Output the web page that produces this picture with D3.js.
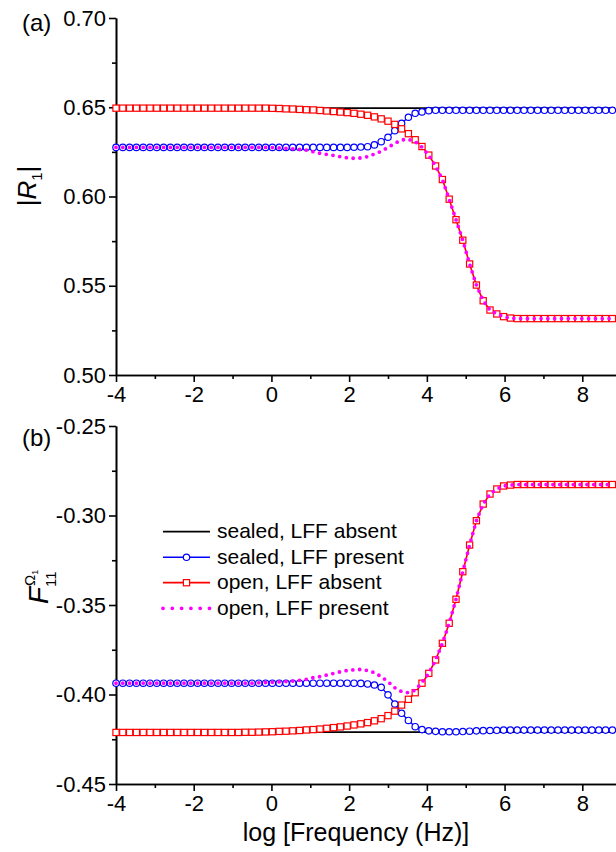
<!DOCTYPE html>
<html>
<head>
<meta charset="utf-8">
<script src="https://cdn.jsdelivr.net/npm/d3@7"></script>
<style>
  body { margin: 0; background: #fff; }
  svg { display: block; }
  text { font-family: "Liberation Sans", Arial, sans-serif; }
</style>
</head>
<body>
<svg id="chart" width="616" height="852"></svg>
<script>
// log10 of frequency, one entry per computed point
const logF = [
  -4, -3.825, -3.65, -3.475, -3.3, -3.125, -2.95, -2.775, -2.6, -2.425,
  -2.25, -2.075, -1.9, -1.725, -1.55, -1.375, -1.2, -1.025, -0.85, -0.675,
  -0.5, -0.325, -0.15, 0.025, 0.2, 0.375, 0.55, 0.725, 0.9, 1.075,
  1.25, 1.425, 1.6, 1.775, 1.95, 2.125, 2.3, 2.475, 2.65, 2.825,
  3.0, 3.175, 3.35, 3.525, 3.7, 3.875, 4.05, 4.225, 4.4, 4.575,
  4.75, 4.925, 5.1, 5.275, 5.45, 5.625, 5.8, 5.975, 6.15, 6.325,
  6.5, 6.675, 6.85, 7.025, 7.2, 7.375, 7.55, 7.725, 7.9, 8.075,
  8.25, 8.425, 8.6, 8.775
];

// panel (a): |R1|
const aSealedAbsent = [
  0.6495, 0.6495, 0.6495, 0.6495, 0.6495, 0.6495, 0.6495, 0.6495, 0.6495, 0.6495,
  0.6495, 0.6495, 0.6495, 0.6495, 0.6495, 0.6495, 0.6495, 0.6495, 0.6495, 0.6495,
  0.6495, 0.6495, 0.6495, 0.6495, 0.6495, 0.6495, 0.6495, 0.6495, 0.6495, 0.6495,
  0.6495, 0.6495, 0.6495, 0.6495, 0.6495, 0.6495, 0.6495, 0.6495, 0.6495, 0.6495,
  0.6495, 0.6495, 0.6495, 0.6495, 0.6495, 0.6495, 0.6495, 0.6495, 0.6495, 0.6495,
  0.6495, 0.6495, 0.6495, 0.6495, 0.6495, 0.6495, 0.6495, 0.6495, 0.6495, 0.6495,
  0.6495, 0.6495, 0.6495, 0.6495, 0.6495, 0.6495, 0.6495, 0.6495, 0.6495, 0.6495,
  0.6495, 0.6495, 0.6495, 0.6495
];
const aSealedPresent = [
  0.6275, 0.6275, 0.6275, 0.6275, 0.6275, 0.6275, 0.6275, 0.6275, 0.6275, 0.6275,
  0.6275, 0.6275, 0.6275, 0.6275, 0.6275, 0.6275, 0.6275, 0.6275, 0.6275, 0.6275,
  0.6275, 0.6275, 0.6275, 0.6275, 0.6275, 0.6275, 0.6275, 0.6275, 0.6275, 0.6275,
  0.6275, 0.6275, 0.6275, 0.6275, 0.6275, 0.6276, 0.6277, 0.6279, 0.6289, 0.6307,
  0.6332, 0.6369, 0.6410, 0.6444, 0.6466, 0.6474, 0.6481, 0.6483, 0.6483, 0.6483,
  0.6483, 0.6483, 0.6483, 0.6483, 0.6483, 0.6483, 0.6483, 0.6483, 0.6483, 0.6483,
  0.6483, 0.6483, 0.6483, 0.6483, 0.6483, 0.6483, 0.6483, 0.6483, 0.6483, 0.6483,
  0.6483, 0.6483, 0.6483, 0.6483
];
const aOpenAbsent = [
  0.6495, 0.6495, 0.6495, 0.6495, 0.6495, 0.6495, 0.6495, 0.6495, 0.6495, 0.6495,
  0.6495, 0.6495, 0.6495, 0.6495, 0.6495, 0.6495, 0.6495, 0.6495, 0.6495, 0.6495,
  0.6495, 0.6495, 0.6495, 0.6494, 0.6493, 0.6491, 0.6490, 0.6488, 0.6486, 0.6485,
  0.6482, 0.6479, 0.6476, 0.6473, 0.6470, 0.6466, 0.6461, 0.6455, 0.6446, 0.6435,
  0.6422, 0.6404, 0.6379, 0.6352, 0.6318, 0.6280, 0.6232, 0.6171, 0.6095, 0.5985,
  0.5870, 0.5755, 0.5622, 0.5504, 0.5416, 0.5364, 0.5342, 0.5327, 0.5319, 0.5316,
  0.5316, 0.5316, 0.5316, 0.5316, 0.5316, 0.5316, 0.5316, 0.5316, 0.5316, 0.5316,
  0.5316, 0.5316, 0.5316, 0.5316
];
const aOpenPresent = [
  0.6275, 0.6275, 0.6275, 0.6275, 0.6275, 0.6275, 0.6275, 0.6275, 0.6275, 0.6275,
  0.6275, 0.6275, 0.6275, 0.6275, 0.6275, 0.6275, 0.6275, 0.6275, 0.6275, 0.6275,
  0.6275, 0.6275, 0.6275, 0.6274, 0.6272, 0.6270, 0.6267, 0.6264, 0.6260, 0.6251,
  0.6242, 0.6236, 0.6230, 0.6223, 0.6217, 0.6214, 0.6216, 0.6223, 0.6238, 0.6253,
  0.6275, 0.6298, 0.6317, 0.6320, 0.6307, 0.6276, 0.6230, 0.6170, 0.6095, 0.5985,
  0.5870, 0.5755, 0.5622, 0.5504, 0.5416, 0.5364, 0.5342, 0.5327, 0.5319, 0.5316,
  0.5316, 0.5316, 0.5316, 0.5316, 0.5316, 0.5316, 0.5316, 0.5316, 0.5316, 0.5316,
  0.5316, 0.5316, 0.5316, 0.5316
];

// panel (b): F11
const bSealedAbsent = [
  -0.4210, -0.4210, -0.4210, -0.4210, -0.4210, -0.4210, -0.4210, -0.4210, -0.4210, -0.4210,
  -0.4210, -0.4210, -0.4210, -0.4210, -0.4210, -0.4210, -0.4210, -0.4210, -0.4210, -0.4210,
  -0.4210, -0.4210, -0.4210, -0.4210, -0.4210, -0.4210, -0.4210, -0.4210, -0.4210, -0.4210,
  -0.4210, -0.4210, -0.4210, -0.4210, -0.4210, -0.4210, -0.4210, -0.4210, -0.4210, -0.4210,
  -0.4210, -0.4210, -0.4210, -0.4210, -0.4210, -0.4210, -0.4210, -0.4210, -0.4210, -0.4210,
  -0.4210, -0.4210, -0.4210, -0.4210, -0.4210, -0.4210, -0.4210, -0.4210, -0.4210, -0.4210,
  -0.4210, -0.4210, -0.4210, -0.4210, -0.4210, -0.4210, -0.4210, -0.4210, -0.4210, -0.4210,
  -0.4210, -0.4210, -0.4210, -0.4210
];
const bSealedPresent = [
  -0.3937, -0.3937, -0.3937, -0.3937, -0.3937, -0.3937, -0.3937, -0.3937, -0.3937, -0.3937,
  -0.3937, -0.3937, -0.3937, -0.3937, -0.3937, -0.3937, -0.3937, -0.3937, -0.3937, -0.3937,
  -0.3937, -0.3937, -0.3937, -0.3937, -0.3937, -0.3937, -0.3937, -0.3937, -0.3937, -0.3937,
  -0.3937, -0.3937, -0.3937, -0.3937, -0.3937, -0.3937, -0.3938, -0.3941, -0.3947, -0.3960,
  -0.4002, -0.4053, -0.4105, -0.4145, -0.4180, -0.4196, -0.4203, -0.4206, -0.4208, -0.4208,
  -0.4208, -0.4207, -0.4205, -0.4203, -0.4202, -0.4201, -0.4200, -0.4199, -0.4199, -0.4199,
  -0.4199, -0.4199, -0.4199, -0.4199, -0.4199, -0.4199, -0.4199, -0.4199, -0.4199, -0.4199,
  -0.4199, -0.4199, -0.4199, -0.4199
];
const bOpenAbsent = [
  -0.4212, -0.4212, -0.4212, -0.4212, -0.4212, -0.4212, -0.4212, -0.4212, -0.4212, -0.4212,
  -0.4212, -0.4212, -0.4212, -0.4212, -0.4212, -0.4212, -0.4212, -0.4212, -0.4212, -0.4211,
  -0.4211, -0.4210, -0.4209, -0.4208, -0.4206, -0.4205, -0.4203, -0.4201, -0.4198, -0.4196,
  -0.4193, -0.4189, -0.4185, -0.4181, -0.4176, -0.4170, -0.4164, -0.4157, -0.4147, -0.4135,
  -0.4118, -0.4093, -0.4059, -0.4027, -0.3990, -0.3937, -0.3882, -0.3807, -0.3714, -0.3602,
  -0.3468, -0.3314, -0.3165, -0.3029, -0.2936, -0.2880, -0.2852, -0.2835, -0.2830, -0.2827,
  -0.2827, -0.2827, -0.2827, -0.2827, -0.2827, -0.2827, -0.2827, -0.2827, -0.2827, -0.2827,
  -0.2827, -0.2827, -0.2827, -0.2827
];
const bOpenPresent = [
  -0.3937, -0.3937, -0.3937, -0.3937, -0.3937, -0.3937, -0.3937, -0.3937, -0.3937, -0.3937,
  -0.3937, -0.3937, -0.3937, -0.3937, -0.3937, -0.3937, -0.3937, -0.3937, -0.3937, -0.3937,
  -0.3937, -0.3935, -0.3933, -0.3932, -0.3930, -0.3928, -0.3925, -0.3921, -0.3915, -0.3906,
  -0.3900, -0.3891, -0.3882, -0.3873, -0.3866, -0.3862, -0.3860, -0.3866, -0.3878, -0.3900,
  -0.3928, -0.3962, -0.3984, -0.3990, -0.3976, -0.3932, -0.3882, -0.3807, -0.3714, -0.3602,
  -0.3468, -0.3314, -0.3165, -0.3029, -0.2936, -0.2880, -0.2852, -0.2835, -0.2830, -0.2827,
  -0.2827, -0.2827, -0.2827, -0.2827, -0.2827, -0.2827, -0.2827, -0.2827, -0.2827, -0.2827,
  -0.2827, -0.2827, -0.2827, -0.2827
];

const legendNames = ["sealed, LFF absent", "sealed, LFF present", "open, LFF absent", "open, LFF present"];

const xMajor = [-4, -2, 0, 2, 4, 6, 8];
const xMajorLabels = ["-4", "-2", "0", "2", "4", "6", "8"];
const xMinor = [-3, -1, 1, 3, 5, 7, 9];

const aMajor = [0.50, 0.55, 0.60, 0.65, 0.70];
const aMajorLabels = ["0.50", "0.55", "0.60", "0.65", "0.70"];
const aMinor = [0.525, 0.575, 0.625, 0.675];

const bMajor = [-0.45, -0.40, -0.35, -0.30, -0.25];
const bMajorLabels = ["-0.45", "-0.40", "-0.35", "-0.30", "-0.25"];
const bMinor = [-0.425, -0.375, -0.325, -0.275];

const svg = d3.select("#chart");
const font = "'Liberation Sans', Arial, sans-serif";

// full axis is -4..10, the picture is cut at the right edge
const x = d3.scaleLinear().domain([-4, 10]).range([116, 660]);

function styleAxis(g) {
  g.attr("font-size", 22).attr("font-family", font);
  g.select(".domain").attr("stroke-width", 1.6);
  g.selectAll(".tick line").attr("stroke-width", 1.6);
  g.selectAll(".tick text").attr("fill", "#000");
}

function drawPanel(p) {
  const y = d3.scaleLinear().domain(p.domain).range([p.bottom, p.top]);
  const g = svg.append("g");

  g.append("g").attr("transform", "translate(116,0)")
    .call(d3.axisLeft(y).tickValues(p.minor).tickSize(4).tickSizeOuter(0).tickFormat(""))
    .call(styleAxis);
  g.append("g").attr("transform", "translate(116,0)")
    .call(d3.axisLeft(y).tickValues(p.major).tickSize(7).tickSizeOuter(0).tickPadding(3)
      .tickFormat((d, i) => p.labels[i]))
    .call(styleAxis);
  g.append("g").attr("transform", `translate(0,${p.bottom})`)
    .call(d3.axisBottom(x).tickValues(xMinor).tickSize(4).tickSizeOuter(0).tickFormat(""))
    .call(styleAxis);
  g.append("g").attr("transform", `translate(0,${p.bottom})`)
    .call(d3.axisBottom(x).tickValues(xMajor).tickSize(7).tickSizeOuter(0).tickPadding(4)
      .tickFormat((d, i) => xMajorLabels[i]))
    .call(styleAxis);

  const line = d3.line().x((d, i) => x(logF[i])).y(d => y(d));

  // sealed, LFF absent
  g.append("path").datum(p.series[0]).attr("d", line)
    .attr("fill", "none").attr("stroke", "#000").attr("stroke-width", 1.8);

  // sealed, LFF present
  g.append("path").datum(p.series[1]).attr("d", line)
    .attr("fill", "none").attr("stroke", "#0000ff").attr("stroke-width", 1.3);
  g.append("g").selectAll("circle").data(p.series[1]).join("circle")
    .attr("cx", (d, i) => x(logF[i])).attr("cy", d => y(d)).attr("r", 3.2)
    .attr("fill", "#fff").attr("stroke", "#0000ff").attr("stroke-width", 1.2);

  // open, LFF absent
  g.append("path").datum(p.series[2]).attr("d", line)
    .attr("fill", "none").attr("stroke", "#ff0000").attr("stroke-width", 1.6);
  g.append("g").selectAll("rect").data(p.series[2]).join("rect")
    .attr("x", (d, i) => x(logF[i]) - 3.1).attr("y", d => y(d) - 3.1)
    .attr("width", 6.2).attr("height", 6.2)
    .attr("fill", "#fff").attr("stroke", "#ff0000").attr("stroke-width", 1.2);

  // open, LFF present
  g.append("path").datum(p.series[3]).attr("d", line)
    .attr("fill", "none").attr("stroke", "#ff00ff").attr("stroke-width", 3.8)
    .attr("stroke-linecap", "round").attr("stroke-dasharray", "0,6.8");

  svg.append("text").attr("x", 22).attr("y", p.labelY)
    .attr("font-size", 24).text(p.label);
}

drawPanel({
  top: 18, bottom: 375, domain: [0.50, 0.70],
  major: aMajor, labels: aMajorLabels, minor: aMinor,
  series: [aSealedAbsent, aSealedPresent, aOpenAbsent, aOpenPresent],
  label: "(a)", labelY: 31
});
drawPanel({
  top: 426, bottom: 784, domain: [-0.45, -0.25],
  major: bMajor, labels: bMajorLabels, minor: bMinor,
  series: [bSealedAbsent, bSealedPresent, bOpenAbsent, bOpenPresent],
  label: "(b)", labelY: 446
});

// y titles
const ta = svg.append("text").attr("transform", "translate(36,186) rotate(-90)")
  .attr("text-anchor", "middle").attr("font-size", 26);
ta.append("tspan").text("|");
ta.append("tspan").attr("font-style", "italic").text("R");
ta.append("tspan").attr("font-size", 15).attr("dy", 6).text("1");
ta.append("tspan").attr("dy", -6).text("|");

const tb = svg.append("g").attr("transform", "translate(48,604) rotate(-90)");
const fTxt = tb.append("text").attr("font-size", 28).attr("font-style", "italic").text("F");
const fw = fTxt.node().getComputedTextLength();
const sup = tb.append("text").attr("x", fw + 1).attr("y", -13).attr("font-size", 15);
sup.append("tspan").text("\u03A9");
sup.append("tspan").attr("font-size", 9).attr("dy", 3).text("1");
tb.append("text").attr("x", fw).attr("y", 8).attr("font-size", 15).text("11");

// x title
svg.append("text").attr("x", 356).attr("y", 841).attr("text-anchor", "middle")
  .attr("font-size", 25).text("log [Frequency (Hz)]");

// legend
const legY = [531.7, 557.3, 582.7, 608.3];
const leg = svg.append("g");
legendNames.forEach((name, i) => {
  const yy = legY[i];
  const ln = leg.append("line").attr("x1", 163).attr("x2", 210).attr("y1", yy).attr("y2", yy);
  if (i === 0) ln.attr("stroke", "#000").attr("stroke-width", 1.8);
  if (i === 1) {
    ln.attr("stroke", "#0000ff").attr("stroke-width", 1.6);
    leg.append("circle").attr("cx", 186.5).attr("cy", yy).attr("r", 3.2)
      .attr("fill", "#fff").attr("stroke", "#0000ff").attr("stroke-width", 1.2);
  }
  if (i === 2) {
    ln.attr("stroke", "#ff0000").attr("stroke-width", 1.8);
    leg.append("rect").attr("x", 183.4).attr("y", yy - 3.1).attr("width", 6.2).attr("height", 6.2)
      .attr("fill", "#fff").attr("stroke", "#ff0000").attr("stroke-width", 1.2);
  }
  if (i === 3) {
    ln.attr("stroke", "#ff00ff").attr("stroke-width", 3.8).attr("stroke-linecap", "round")
      .attr("stroke-dasharray", "0,9.3");
  }
  leg.append("text").attr("x", 217).attr("y", yy).attr("dy", "0.32em")
    .attr("font-size", 21).text(name);
});
</script>
</body>
</html>
